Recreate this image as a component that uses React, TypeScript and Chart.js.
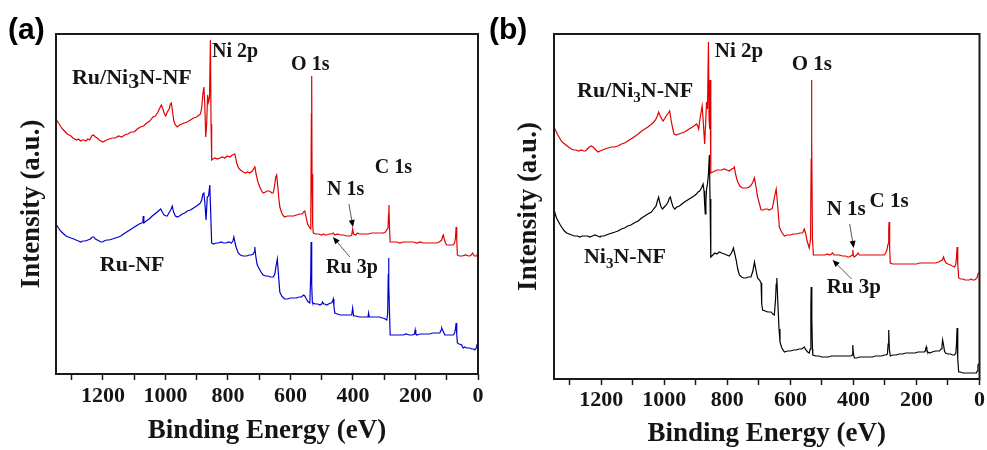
import { useEffect, useRef } from "react";
import { Chart, registerables } from "chart.js";

Chart.register(...registerables);

type Pt = [number, number];

// Binding energy axis (eV), shared by both panels
const energyMin = 0;
const energyMax = 1350;
const majorStep = 200;
const minorStep = 100;

// XPS survey spectra: [binding energy (eV), intensity (a.u.)]
const ruNi3nSurveyA: Pt[] = [
  [1350, 255], [1344, 252], [1338, 249], [1332, 246], [1326, 244], [1320, 242], [1314, 240], [1308, 239],
  [1302, 238], [1296, 236], [1290, 235], [1284, 234], [1278, 235], [1272, 233], [1266, 234], [1260, 234],
  [1254, 233], [1248, 235], [1242, 234], [1236, 238], [1230, 239], [1224, 237], [1218, 236], [1212, 234],
  [1206, 233], [1200, 232], [1194, 233], [1188, 234], [1180, 235], [1170, 236], [1160, 236], [1150, 238],
  [1140, 237], [1130, 239], [1120, 240], [1110, 242], [1100, 242], [1090, 245], [1080, 247], [1070, 248],
  [1060, 251], [1050, 253], [1040, 257], [1032, 258], [1024, 262], [1018, 266], [1013, 269], [1008, 265],
  [1003, 260], [999, 258], [994, 262], [988, 265], [984, 270], [981, 271], [977, 262], [973, 253],
  [968, 249], [962, 247], [955, 249], [948, 250], [940, 251], [930, 252], [920, 254], [910, 256],
  [900, 257], [892, 259], [888, 260], [884, 266], [880, 280], [877, 287], [874, 270], [871, 237],
  [868, 250], [865, 279], [862, 272], [859, 276], [856, 334], [854, 250], [852, 214], [848, 215],
  [842, 216], [834, 215], [826, 216], [818, 217], [810, 216], [802, 218], [794, 217], [786, 219],
  [778, 220], [775, 216], [772, 211], [766, 206], [760, 204], [751, 202], [744, 201], [737, 202],
  [730, 201], [722, 203], [716, 206], [714, 208], [710, 200], [704, 192], [698, 187], [692, 183],
  [687, 181], [680, 182], [674, 183], [666, 183], [660, 181], [655, 181], [650, 190], [647, 197],
  [644, 199], [640, 186], [637, 175], [634, 167], [628, 161], [622, 158], [618, 157], [610, 158],
  [600, 158], [590, 158], [580, 159], [570, 160], [562, 160], [558, 162], [554, 163], [550, 157],
  [545, 150], [540, 147], [535, 145], [533, 260], [532, 298], [531, 200], [529, 150], [527, 141],
  [520, 140], [510, 140], [500, 139], [494, 140], [490, 139], [484, 139], [476, 140], [468, 140],
  [463, 141], [458, 139], [450, 140], [440, 139], [430, 139], [420, 138], [410, 138], [404, 139],
  [401, 145], [398, 140], [392, 139], [385, 141], [380, 140], [370, 140], [360, 140], [350, 140],
  [340, 141], [330, 141], [320, 141], [310, 141], [303, 141], [296, 142], [292, 144], [288, 146],
  [286, 160], [285, 169], [283, 145], [281, 132], [270, 132], [260, 132], [250, 131], [240, 132],
  [230, 132], [220, 132], [207, 132], [195, 131], [185, 132], [175, 131], [165, 131], [155, 131],
  [145, 131], [132, 131], [124, 132], [120, 133], [116, 134], [113, 138], [111, 139], [108, 135],
  [104, 131], [100, 129], [90, 129], [80, 129], [75, 131], [72, 136], [70, 147], [68, 135],
  [66, 119], [60, 118], [50, 118], [40, 119], [30, 118], [26, 118], [22, 119], [17, 121],
  [12, 118], [8, 118], [4, 118], [0, 122],
];

const ruNfSurvey: Pt[] = [
  [1350, 150], [1344, 147], [1338, 144], [1332, 142], [1325, 140], [1318, 138], [1310, 137], [1302, 136],
  [1293, 135], [1286, 134], [1278, 133], [1271, 132], [1264, 133], [1256, 133], [1248, 134], [1240, 135],
  [1234, 137], [1229, 137], [1224, 135], [1218, 134], [1212, 133], [1206, 132], [1202, 132], [1196, 133],
  [1188, 134], [1180, 134], [1170, 135], [1160, 136], [1150, 137], [1143, 138], [1134, 140], [1124, 142],
  [1114, 144], [1104, 146], [1094, 148], [1084, 150], [1076, 151], [1072, 152], [1071, 158], [1069, 151],
  [1062, 153], [1052, 155], [1042, 158], [1034, 160], [1026, 162], [1019, 164], [1015, 165], [1010, 162],
  [1004, 159], [998, 158], [994, 158], [989, 161], [983, 164], [978, 168], [974, 162], [968, 158],
  [962, 157], [955, 158], [946, 160], [938, 161], [930, 163], [920, 164], [910, 166], [900, 168],
  [892, 170], [888, 171], [884, 174], [880, 180], [877, 181], [874, 172], [870, 154], [866, 177],
  [862, 178], [858, 189], [855, 160], [852, 131], [846, 130], [838, 131], [830, 131], [822, 132],
  [814, 131], [806, 131], [798, 132], [789, 131], [784, 133], [781, 137], [777, 131], [773, 126],
  [767, 121], [760, 119], [752, 118], [745, 118], [740, 118], [732, 119], [725, 119], [719, 120],
  [716, 122], [714, 127], [711, 118], [707, 110], [703, 107], [696, 103], [690, 100], [687, 99],
  [680, 98], [672, 98], [664, 97], [655, 97], [650, 100], [646, 108], [642, 115], [638, 98],
  [634, 82], [628, 78], [622, 76], [618, 75], [610, 75], [600, 76], [590, 76], [581, 76],
  [572, 77], [565, 77], [558, 79], [554, 78], [549, 75], [543, 72], [538, 71], [535, 100],
  [534, 132], [532, 90], [530, 72], [529, 71], [520, 70], [512, 70], [506, 69], [500, 70],
  [497, 72], [494, 70], [490, 70], [484, 69], [478, 70], [472, 71], [468, 71], [465, 73],
  [463, 75], [461, 68], [458, 61], [450, 60], [440, 59], [430, 59], [420, 59], [410, 59],
  [404, 59], [401, 66], [398, 58], [390, 58], [380, 57], [370, 57], [360, 57], [352, 57],
  [350, 61], [348, 57], [340, 57], [330, 57], [320, 57], [314, 57], [308, 56], [303, 56],
  [297, 55], [292, 54], [289, 60], [287, 100], [286, 116], [285, 90], [283, 60], [281, 39],
  [270, 39], [260, 39], [250, 39], [240, 39], [230, 40], [220, 39], [210, 39], [203, 40],
  [201, 44], [199, 40], [196, 39], [185, 40], [175, 40], [165, 40], [155, 40], [145, 41],
  [135, 41], [128, 41], [122, 41], [118, 44], [116, 46], [112, 43], [106, 39], [95, 39],
  [85, 39], [79, 39], [75, 41], [72, 45], [70, 51], [68, 40], [66, 31], [60, 30],
  [52, 29], [50, 27], [47, 26], [42, 27], [36, 26], [30, 26], [26, 26], [20, 25],
  [15, 25], [10, 24], [6, 26], [4, 29], [0, 30],
];

const ruNi3nSurveyB: Pt[] = [
  [1350, 252], [1344, 248], [1338, 244], [1332, 241], [1327, 238], [1320, 236], [1312, 234], [1304, 232],
  [1295, 230], [1288, 229], [1280, 229], [1272, 228], [1264, 229], [1256, 228], [1250, 228], [1244, 230],
  [1238, 232], [1232, 233], [1226, 232], [1220, 230], [1214, 228], [1210, 227], [1204, 228], [1196, 229],
  [1188, 230], [1178, 231], [1168, 232], [1158, 232], [1147, 233], [1136, 235], [1126, 236], [1116, 238],
  [1106, 240], [1096, 242], [1083, 245], [1072, 248], [1062, 250], [1052, 252], [1044, 254], [1036, 256],
  [1028, 259], [1022, 263], [1018, 267], [1013, 263], [1008, 260], [1004, 258], [998, 261], [992, 264],
  [987, 266], [983, 268], [978, 258], [973, 250], [969, 245], [962, 244], [954, 245], [945, 246],
  [936, 247], [926, 249], [916, 251], [906, 253], [898, 255], [894, 253], [891, 250], [886, 262],
  [880, 273], [876, 255], [872, 235], [869, 255], [866, 277], [863, 270], [860, 337], [858, 260],
  [856, 250], [855, 299], [853, 240], [852, 206], [846, 207], [840, 208], [833, 209], [825, 209],
  [818, 209], [810, 210], [802, 209], [794, 208], [786, 210], [780, 211], [778, 212], [774, 205],
  [770, 200], [767, 197], [760, 193], [753, 191], [746, 191], [738, 191], [730, 192], [724, 194],
  [719, 197], [714, 201], [710, 194], [706, 186], [704, 182], [699, 176], [693, 169], [686, 169],
  [680, 170], [674, 170], [667, 169], [662, 170], [658, 170], [654, 176], [648, 186], [645, 190],
  [640, 172], [635, 152], [628, 147], [619, 143], [610, 144], [600, 144], [590, 145], [580, 145],
  [570, 146], [561, 146], [556, 150], [552, 146], [547, 138], [543, 134], [540, 131], [536, 140],
  [534, 220], [533, 299], [532, 240], [530, 140], [527, 124], [520, 124], [510, 124], [500, 124],
  [490, 124], [483, 125], [476, 124], [470, 125], [466, 126], [462, 124], [455, 124], [445, 124],
  [435, 123], [425, 123], [418, 122], [413, 122], [408, 123], [404, 124], [402, 129], [400, 123],
  [397, 122], [390, 124], [385, 126], [381, 124], [372, 124], [360, 124], [350, 124], [340, 124],
  [330, 124], [320, 124], [310, 124], [302, 124], [298, 126], [294, 129], [290, 135], [288, 150],
  [287, 157], [285, 130], [283, 116], [275, 115], [265, 115], [255, 115], [245, 115], [235, 115],
  [225, 115], [212, 115], [200, 115], [190, 116], [180, 116], [170, 116], [160, 116], [150, 116],
  [140, 116], [130, 117], [124, 118], [118, 119], [114, 122], [111, 119], [106, 116], [100, 115],
  [92, 114], [86, 113], [79, 112], [75, 115], [73, 122], [71, 132], [69, 115], [66, 101],
  [60, 100], [52, 100], [46, 99], [40, 99], [32, 99], [26, 100], [22, 99], [16, 99],
  [12, 100], [8, 101], [5, 105], [2, 106], [0, 107],
];

const ni3nNfSurvey: Pt[] = [
  [1350, 170], [1346, 165], [1342, 161], [1337, 158], [1330, 154], [1324, 151], [1317, 148], [1310, 146],
  [1302, 145], [1294, 144], [1285, 143], [1276, 143], [1268, 142], [1260, 143], [1252, 143], [1244, 143],
  [1236, 142], [1228, 143], [1220, 144], [1212, 143], [1204, 142], [1200, 143], [1192, 143], [1184, 144],
  [1176, 145], [1166, 146], [1156, 147], [1147, 148], [1136, 150], [1126, 151], [1116, 153], [1106, 154],
  [1096, 156], [1083, 158], [1072, 161], [1062, 163], [1052, 165], [1041, 167], [1034, 170], [1026, 173],
  [1022, 178], [1018, 182], [1014, 176], [1010, 172], [1006, 170], [1000, 172], [994, 174], [988, 177],
  [984, 181], [981, 182], [976, 176], [972, 172], [967, 170], [960, 172], [952, 173], [944, 175],
  [936, 177], [926, 179], [916, 181], [906, 183], [898, 185], [893, 187], [888, 188], [882, 191],
  [877, 195], [874, 188], [872, 175], [870, 165], [868, 178], [866, 190], [863, 195], [860, 205],
  [857, 224], [855, 180], [853, 140], [852, 122], [846, 124], [840, 126], [834, 125], [825, 127],
  [818, 126], [810, 125], [802, 124], [794, 123], [787, 126], [783, 129], [781, 131], [777, 126],
  [772, 119], [767, 110], [762, 104], [755, 102], [748, 101], [741, 101], [734, 102], [725, 102],
  [719, 108], [714, 117], [710, 110], [704, 101], [698, 99], [693, 96], [691, 75], [688, 69],
  [680, 68], [672, 67], [666, 67], [661, 67], [656, 65], [651, 64], [647, 80], [645, 95],
  [643, 101], [639, 70], [636, 50], [633, 37], [627, 31], [619, 27], [610, 28], [600, 28],
  [590, 29], [582, 29], [572, 30], [565, 30], [560, 31], [556, 32], [551, 29], [545, 27],
  [540, 26], [537, 30], [535, 70], [534, 92], [532, 60], [530, 30], [529, 24], [520, 23],
  [510, 23], [500, 22], [490, 22], [480, 22], [470, 23], [460, 23], [450, 23], [444, 23],
  [435, 23], [425, 23], [415, 23], [408, 23], [404, 24], [402, 34], [400, 25], [397, 21],
  [390, 21], [380, 22], [370, 22], [360, 22], [349, 22], [340, 22], [330, 23], [320, 23],
  [310, 23], [302, 24], [296, 24], [292, 25], [290, 35], [288, 49], [286, 30], [283, 23],
  [275, 24], [265, 24], [255, 25], [245, 25], [233, 26], [225, 26], [215, 26], [205, 26],
  [195, 27], [185, 27], [178, 27], [175, 27], [172, 28], [169, 32], [167, 29], [164, 27],
  [159, 26], [150, 27], [140, 28], [132, 28], [127, 28], [122, 30], [119, 33], [117, 39],
  [114, 34], [111, 28], [108, 26], [100, 25], [92, 25], [85, 24], [79, 24], [75, 26],
  [73, 35], [71, 51], [69, 20], [66, 7], [60, 7], [52, 6], [46, 6], [40, 6],
  [32, 6], [26, 6], [20, 6], [15, 6], [10, 6], [7, 8], [5, 14], [2, 15], [0, 16],
];

// Peak / sample labels: text pieces anchored at [energy, intensity]
type Piece = { text: string; sub?: boolean; drop?: number };
type Note = { pieces: Piece[]; at: Pt; size: number };
type Arrow = { from: Pt; to: Pt };

const notesA: Note[] = [
  { pieces: [{ text: "Ru/Ni" }, { text: "3", drop: 4 }, { text: "N-NF" }], at: [1299, 296], size: 22 },
  { pieces: [{ text: "Ni 2p" }], at: [851, 322], size: 20 },
  { pieces: [{ text: "O 1s" }], at: [598, 309], size: 20 },
  { pieces: [{ text: "C 1s" }], at: [330, 206], size: 20 },
  { pieces: [{ text: "N 1s" }], at: [483, 184], size: 20 },
  { pieces: [{ text: "Ru 3p" }], at: [486, 106], size: 20 },
  { pieces: [{ text: "Ru-NF" }], at: [1210, 109], size: 22 },
];
const arrowsA: Arrow[] = [
  { from: [413, 170], to: [400, 147] },
  { from: [410, 117], to: [464, 137] },
];

const notesB: Note[] = [
  { pieces: [{ text: "Ru/Ni" }, { text: "3", sub: true }, { text: "N-NF" }], at: [1277, 288], size: 22 },
  { pieces: [{ text: "Ni 2p" }], at: [840, 327], size: 21 },
  { pieces: [{ text: "O 1s" }], at: [596, 314], size: 21 },
  { pieces: [{ text: "N 1s" }], at: [485, 169], size: 21 },
  { pieces: [{ text: "C 1s" }], at: [349, 177], size: 21 },
  { pieces: [{ text: "Ru 3p" }], at: [485, 91], size: 21 },
  { pieces: [{ text: "Ni" }, { text: "3", sub: true }, { text: "N-NF" }], at: [1255, 122], size: 22 },
];
const arrowsB: Arrow[] = [
  { from: [412, 155], to: [399, 131] },
  { from: [406, 100], to: [466, 119] },
];

const SERIF = '"Liberation Serif", "Times New Roman", serif';
const INK = "#151515";

type Series = { label: string; data: Pt[]; color: string };
type Panel = {
  letter: string;
  series: Series[];
  yMax: number;
  notes: Note[];
  arrows: Arrow[];
  width: number;
  padRight: number;
  axisWidth: number;
  axisHeight: number;
  yTitlePad: number;
  xTitlePad: number;
  tickPad: number;
  letterX: number;
};

const panels: Panel[] = [
  {
    letter: "(a)",
    series: [
      { label: "Ru/Ni3N-NF", data: ruNi3nSurveyA, color: "#e20000" },
      { label: "Ru-NF", data: ruNfSurvey, color: "#0000cc" },
    ],
    yMax: 340,
    notes: notesA,
    arrows: arrowsA,
    width: 490,
    padRight: 12,
    axisWidth: 56,
    axisHeight: 76,
    yTitlePad: 16,
    xTitlePad: 3,
    tickPad: 3,
    letterX: 8,
  },
  {
    letter: "(b)",
    series: [
      { label: "Ru/Ni3N-NF", data: ruNi3nSurveyB, color: "#e20000" },
      { label: "Ni3N-NF", data: ni3nNfSurvey, color: "#000000" },
    ],
    yMax: 345,
    notes: notesB,
    arrows: arrowsB,
    width: 497,
    padRight: 7,
    axisWidth: 64,
    axisHeight: 71,
    yTitlePad: 23,
    xTitlePad: 0,
    tickPad: 2,
    letterX: -1,
  },
];

function decorations(p: Panel) {
  return {
    id: "decor" + p.letter,
    afterDraw(chart: Chart) {
      const { ctx, chartArea: a } = chart;
      const sx = chart.scales.x;
      const sy = chart.scales.y;
      ctx.save();
      // frame around the plot
      ctx.strokeStyle = "#1a1a1a";
      ctx.lineWidth = 2;
      ctx.strokeRect(a.left, a.top, a.right - a.left, a.bottom - a.top);

      // labels
      ctx.fillStyle = INK;
      ctx.textAlign = "left";
      ctx.textBaseline = "middle";
      for (const n of p.notes) {
        let x = sx.getPixelForValue(n.at[0]);
        const y = sy.getPixelForValue(n.at[1]);
        for (const piece of n.pieces) {
          const size = piece.sub ? Math.round(n.size * 0.68) : n.size;
          ctx.font = `bold ${size}px ${SERIF}`;
          const dy = piece.sub ? n.size * 0.32 : piece.drop ?? 0;
          ctx.fillText(piece.text, x, y + dy);
          x += ctx.measureText(piece.text).width;
        }
      }

      // arrows pointing at weak peaks
      for (const ar of p.arrows) {
        const x0 = sx.getPixelForValue(ar.from[0]);
        const y0 = sy.getPixelForValue(ar.from[1]);
        const x1 = sx.getPixelForValue(ar.to[0]);
        const y1 = sy.getPixelForValue(ar.to[1]);
        const ang = Math.atan2(y1 - y0, x1 - x0);
        ctx.strokeStyle = "#555";
        ctx.lineWidth = 1;
        ctx.beginPath();
        ctx.moveTo(x0, y0);
        ctx.lineTo(x1 - Math.cos(ang) * 4, y1 - Math.sin(ang) * 4);
        ctx.stroke();
        ctx.fillStyle = "#000";
        ctx.beginPath();
        ctx.moveTo(x1, y1);
        ctx.lineTo(x1 - Math.cos(ang) * 7 - Math.sin(ang) * 3, y1 - Math.sin(ang) * 7 + Math.cos(ang) * 3);
        ctx.lineTo(x1 - Math.cos(ang) * 7 + Math.sin(ang) * 3, y1 - Math.sin(ang) * 7 - Math.cos(ang) * 3);
        ctx.closePath();
        ctx.fill();
      }

      // panel letter
      ctx.fillStyle = "#000";
      ctx.font = 'bold 30px "Liberation Sans", Arial, sans-serif';
      ctx.textBaseline = "alphabetic";
      ctx.fillText(p.letter, p.letterX, 39);
      ctx.restore();
    },
  };
}

function SurveyPanel({ panel }: { panel: Panel }) {
  const ref = useRef<HTMLCanvasElement | null>(null);
  useEffect(() => {
    if (!ref.current) return;
    const p = panel;
    const chart = new Chart(ref.current, {
      type: "line",
      data: {
        datasets: p.series.map((s) => ({
          label: s.label,
          data: s.data.map(([x, y]) => ({ x, y })),
          borderColor: s.color,
          borderWidth: 1.2,
          pointRadius: 0,
          tension: 0,
          fill: false,
        })),
      },
      options: {
        responsive: false,
        animation: false,
        devicePixelRatio: 1,
        events: [],
        layout: { padding: { top: 34, right: p.padRight, left: 0, bottom: 0 } },
        plugins: { legend: { display: false }, tooltip: { enabled: false } },
        scales: {
          x: {
            type: "linear",
            reverse: true,
            min: energyMin,
            max: energyMax,
            afterFit: (s: any) => {
              s.height = p.axisHeight;
            },
            ticks: {
              stepSize: minorStep,
              includeBounds: false,
              autoSkip: false,
              maxRotation: 0,
              padding: p.tickPad,
              color: INK,
              font: { family: SERIF, size: 22, weight: "bold" },
              callback: (v: any) => (Number(v) % majorStep === 0 ? String(v) : ""),
            },
            grid: {
              display: true,
              drawOnChartArea: false,
              drawTicks: true,
              tickLength: 6,
              tickWidth: 1.5,
              tickColor: "#1a1a1a",
            },
            border: { display: false },
            title: {
              display: true,
              text: "Binding Energy (eV)",
              color: INK,
              font: { family: SERIF, size: 27, weight: "bold" },
              padding: { top: 0, bottom: p.xTitlePad },
            },
          },
          y: {
            type: "linear",
            min: 0,
            max: p.yMax,
            afterFit: (s: any) => {
              s.width = p.axisWidth;
            },
            ticks: { display: false },
            grid: { display: false },
            border: { display: false },
            title: {
              display: true,
              text: "Intensity (a.u.)",
              color: INK,
              font: { family: SERIF, size: 27, weight: "bold" },
              padding: { top: p.yTitlePad, bottom: 0 },
            },
          },
        },
      },
      plugins: [decorations(p)],
    } as any);
    return () => chart.destroy();
  }, [panel]);
  return (
    <canvas
      ref={ref}
      width={panel.width}
      height={450}
      style={{ width: panel.width, height: 450, display: "block" }}
    />
  );
}

export default function App() {
  return (
    <div
      style={{
        position: "fixed",
        left: 0,
        top: 0,
        width: 987,
        height: 450,
        background: "#fff",
        overflow: "hidden",
      }}
    >
      <div style={{ position: "absolute", left: 0, top: 0 }}>
        <SurveyPanel panel={panels[0]} />
      </div>
      <div style={{ position: "absolute", left: 490, top: 0 }}>
        <SurveyPanel panel={panels[1]} />
      </div>
    </div>
  );
}
